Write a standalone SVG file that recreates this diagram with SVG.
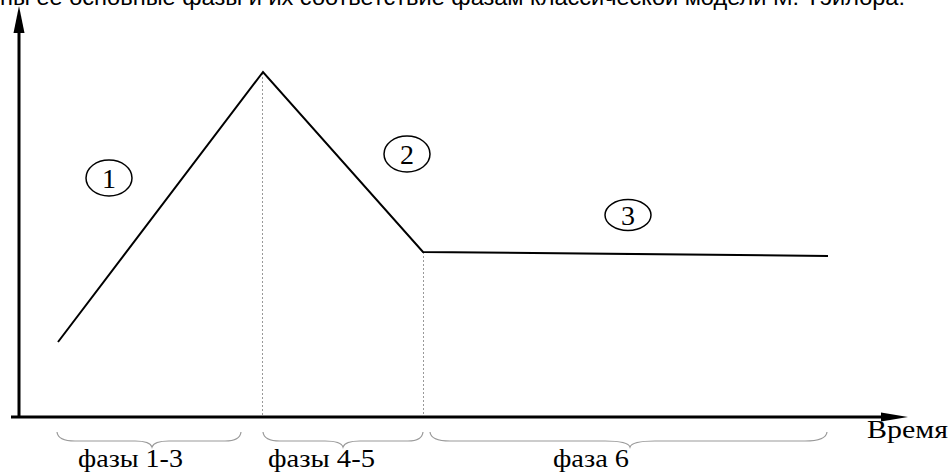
<svg xmlns="http://www.w3.org/2000/svg" width="949" height="472" viewBox="0 0 949 472">
<style>
.axis{stroke:#000;stroke-width:3;fill:none}
.curve{stroke:#000;stroke-width:2;fill:none;stroke-linejoin:miter}
.guide{stroke:#999;stroke-width:1;stroke-dasharray:2 2;fill:none}
.brace{stroke:#999;stroke-width:1.2;fill:none}
.serif{font-family:'Liberation Serif','Times New Roman',Times,serif}
.num{font-size:28px;fill:#000;text-anchor:middle}
.lbl{font-size:26px;fill:#000}
.ell{stroke:#000;stroke-width:1.5;fill:none}
.cap{font-family:'Liberation Sans',Arial,sans-serif;font-size:22px;fill:#000}
</style>
<rect width="949" height="472" fill="#fff"/>
<text class="cap" x="0" y="5" textLength="905" lengthAdjust="spacingAndGlyphs">ны ее основные фазы и их соответствие фазам классической модели М. Тэйлора.</text>
<g id="connectors">
<line class="guide" x1="262.5" y1="73" x2="262.5" y2="416"/>
<line class="guide" x1="423.5" y1="252" x2="423.5" y2="416"/>
<polyline class="curve" points="58,342 263,72 423,252 828,256"/>
</g>
<g id="axes">
<line class="axis" x1="19" y1="418" x2="19" y2="30"/>
<polygon points="19,6 13.5,33 24.5,33" fill="#000"/>
<line class="axis" x1="11" y1="417" x2="884" y2="417"/>
<polygon points="908,417 881,412.5 881,421.5" fill="#000"/>
</g>
<g id="phase1" class="serif">
<ellipse class="ell" cx="109" cy="178" rx="23" ry="18"/>
<text class="num" x="109" y="188">1</text>
</g>
<g id="phase2" class="serif">
<ellipse class="ell" cx="407" cy="154" rx="23" ry="18"/>
<text class="num" x="407" y="164">2</text>
</g>
<g id="phase3" class="serif">
<ellipse class="ell" cx="628" cy="215" rx="23" ry="15.5"/>
<text class="num" x="628" y="225">3</text>
</g>
<g id="braces">
<path class="brace" d="M57,432 Q58,441 75,441 L135,441 Q150,441 152,447 Q154,441 169,441 L225,441 Q240,441 241,432"/>
<path class="brace" d="M263,432 Q264,441 280,441 L325,441 Q341,441 343,447 Q345,441 360,441 L408,441 Q422,441 423,432"/>
<path class="brace" d="M430,432 Q431,441 450,441 L605,441 Q628,441 630,447 Q632,441 655,441 L805,441 Q826,441 827,432"/>
</g>
<g id="labels" class="serif">
<text class="lbl" x="78" y="467" textLength="105" lengthAdjust="spacingAndGlyphs">фазы 1-3</text>
<text class="lbl" x="268" y="467" textLength="107" lengthAdjust="spacingAndGlyphs">фазы 4-5</text>
<text class="lbl" x="553" y="467" textLength="76" lengthAdjust="spacingAndGlyphs">фаза 6</text>
<text class="lbl" x="867" y="438" textLength="81" lengthAdjust="spacingAndGlyphs">Время</text>
</g>
</svg>
